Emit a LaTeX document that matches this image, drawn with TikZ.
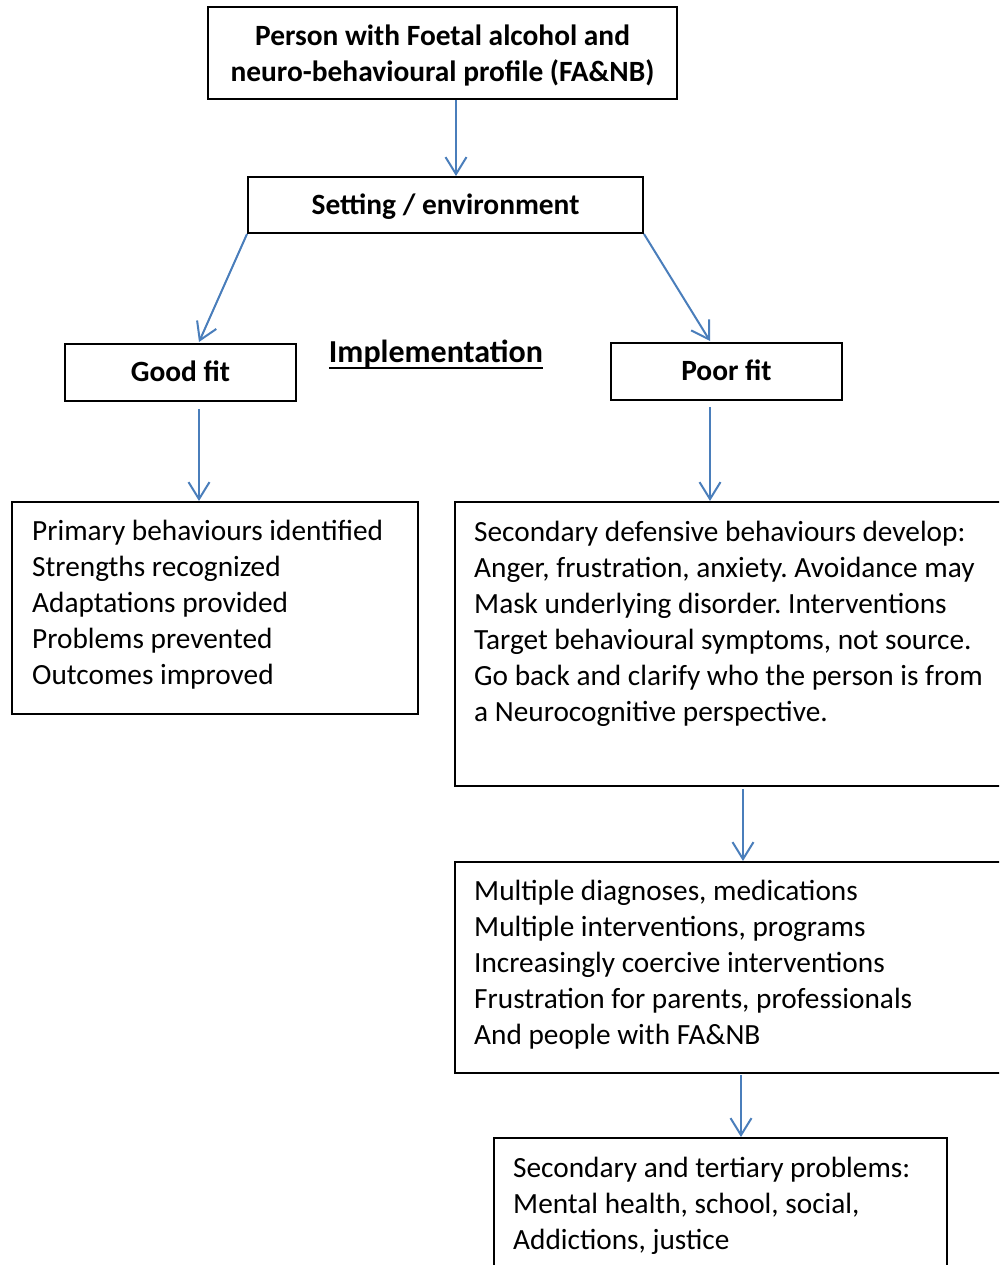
\documentclass[tikz,border=0pt]{standalone}
\usepackage{fontspec}
\setmainfont{Carlito}
\usetikzlibrary{arrows.meta,calc}
\definecolor{arrblue}{RGB}{74,126,187}
\newcommand{\bodyfont}{\fontsize{29.3}{36}\selectfont\frenchspacing}
\newcommand{\headfont}{\fontsize{29.4}{36}\selectfont\bfseries}
\tikzset{
  box/.style={draw=black, line width=2pt, fill=white, inner sep=0pt, anchor=north west},
  headtxt/.style={font=\headfont, align=center, inner sep=0pt},
  bodytxt/.style={font=\bodyfont, align=left, inner sep=0pt, anchor=north west, execute at begin node=\strut},
  arr/.style={draw=arrblue, line width=2pt, -{Straight Barb[length=17pt,width=21pt,line width=2pt]}}
}
\begin{document}
\begin{tikzpicture}[x=1pt,y=-1pt]
\useasboundingbox (0,0) rectangle (999,1265);
\clip (0,0) rectangle (999,1265);
\fill[white] (0,0) rectangle (999,1265);

% boxes
\node[box, minimum width=469pt, minimum height=92pt] (top) at (207,6) {};
\node[headtxt] (toptxt) at ([yshift=-2pt]top.center) {Person with Foetal alcohol and\\neuro-behavioural profile (FA\&NB)};

\node[box, minimum width=395pt, minimum height=56pt] (set) at (247,176) {};
\node[headtxt, anchor=base] (settxt) at ($(set.north)+(0,39)$) {Setting / environment};

\node[box, minimum width=231pt, minimum height=57pt] (good) at (64,343) {};
\node[headtxt, anchor=base] (goodtxt) at ($(good.north)+(0,38)$) {Good fit};

\node[box, minimum width=231pt, minimum height=57pt] (poor) at (610,342) {};
\node[headtxt, anchor=base] (poortxt) at ($(poor.north)+(0,38)$) {Poor fit};

\node[font=\fontsize{32}{36}\selectfont\bfseries, inner sep=0pt, anchor=base] (impl) at (436,362.5) {Implementation};
\draw[line width=2pt] ([yshift=-5pt]impl.base west) -- ([yshift=-5pt]impl.base east);

\node[box, minimum width=406pt, minimum height=212pt] (left) at (11,501) {};
\node[bodytxt] (lefttxt) at (32,520) {Primary behaviours identified\\Strengths recognized\\Adaptations provided\\Problems prevented\\Outcomes improved};

\node[box, minimum width=556pt, minimum height=284pt] (sec) at (454,501) {};
\node[bodytxt] (sectxt) at (474,521) {Secondary defensive behaviours develop:\\Anger, frustration, anxiety. Avoidance may\\Mask underlying disorder. Interventions\\Target behavioural symptoms, not source.\\Go back and clarify who the person is from\\a Neurocognitive perspective.};

\node[box, minimum width=556pt, minimum height=211pt] (mult) at (454,861) {};
\node[bodytxt] (multtxt) at (474,879.5) {Multiple diagnoses, medications\\Multiple interventions, programs\\Increasingly coercive interventions\\Frustration for parents, professionals\\And people with FA\&NB};

\node[box, minimum width=453pt, minimum height=160pt] (bot) at (493,1137) {};
\node[bodytxt] (bottxt) at (513,1156.5) {Secondary and tertiary problems:\\Mental health, school, social,\\Addictions, justice};

% connectors
\draw[arr] ([xshift=13.5pt]top.south) -- ([xshift=13.5pt]top.south |- set.north);
\draw[arr] (set.south west) -- ([xshift=18.5pt,yshift=1pt]good.north);
\draw[arr] (set.south east) -- ([xshift=-16.5pt,yshift=1pt]poor.north);
\draw[arr] ([xshift=18.5pt,yshift=-7pt]good.south) -- ([xshift=18.5pt]good.south |- left.north);
\draw[arr] ([xshift=-16.5pt,yshift=-6pt]poor.south) -- ([xshift=-16.5pt]poor.south |- sec.north);
\draw[arr] ([xshift=10pt,yshift=-2pt]sec.south) -- ([xshift=10pt]sec.south |- mult.north);
\draw[arr] ([xshift=8pt,yshift=-1pt]mult.south) -- ([xshift=8pt]mult.south |- bot.north);
\end{tikzpicture}
\end{document}
